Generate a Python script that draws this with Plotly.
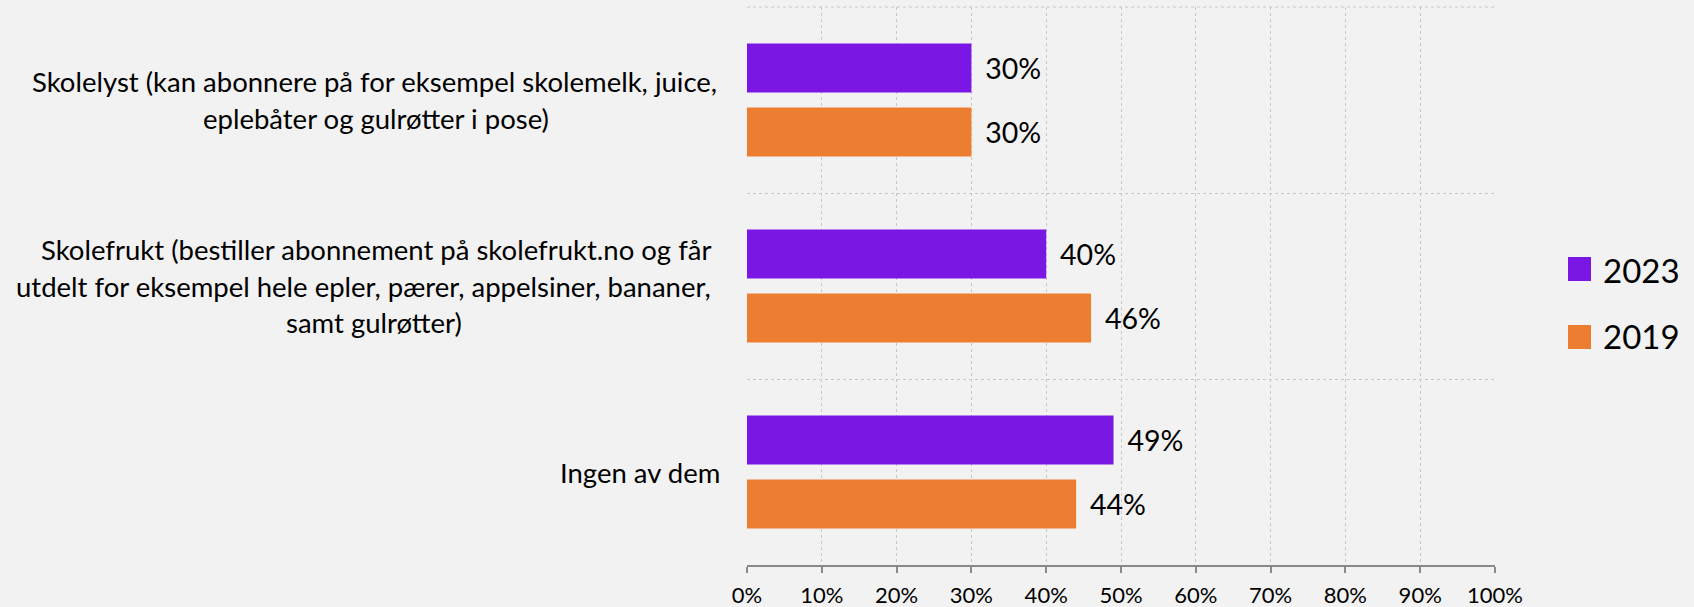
import plotly.graph_objects as go

# ---- data ----
category_lines = [
    ["Skolelyst (kan abonnere på for eksempel skolemelk, juice,",
     "eplebåter og gulrøtter i pose)"],
    ["Skolefrukt (bestiller abonnement på skolefrukt.no og får",
     "utdelt for eksempel hele epler, pærer, appelsiner, bananer,",
     "samt gulrøtter)"],
    ["Ingen av dem"],
]
categories = [" ".join(l) for l in category_lines]
series_names = ["2023", "2019"]
values_2023 = [0.30, 0.40, 0.49]
values_2019 = [0.30, 0.46, 0.44]
x_tickvals = [0, 0.1, 0.2, 0.3, 0.4, 0.5, 0.6, 0.7, 0.8, 0.9, 1.0]

colors = ["#7A17E4", "#ED7D31"]
FONT = "Lato"
W, H = 1694, 607
L, R, T, B = 747, 199, 7, 42
PW, PH = W - L - R, H - T - B

fig = go.Figure()
for name, vals, col in zip(series_names, [values_2023, values_2019], colors):
    fig.add_trace(go.Bar(
        y=categories, x=vals, name=name, orientation="h",
        marker=dict(color=col, line=dict(width=0)),
        texttemplate="\u00a0\u2009%{x:.0%}", textposition="outside",
        textfont=dict(family=FONT, size=28.5, color="#000000"),
        constraintext="none", cliponaxis=False, showlegend=False,
    ))

annotations = []
# category labels (centered lines)
line_centers = [[374, 376], [376, 364, 374], [640]]
for cat, lines, centers in zip(categories, category_lines, line_centers):
    n = len(lines)
    for k, (ln, cx) in enumerate(zip(lines, centers)):
        annotations.append(dict(
            text=ln, xref="paper", yref="y", x=(cx - L) / PW, y=cat,
            xanchor="center", yanchor="middle", showarrow=False,
            yshift=-(k - (n - 1) / 2) * 36.5,
            font=dict(family=FONT, size=27.5, color="#000000"),
        ))

# manual legend
shapes = [dict(type="line", xref="paper", yref="paper", x0=0, x1=1, y0=1, y1=1,
               line=dict(color="#C8C8C8", width=1, dash="3px,3px"))]
legend_rows = [(257, 281, 270), (325, 349, 336)]
for name, col, (y0p, y1p, yc) in zip(series_names, colors, legend_rows):
    shapes.append(dict(
        type="rect", xref="paper", yref="paper",
        x0=(1568 - L) / PW, x1=(1591 - L) / PW,
        y0=(H - B - y1p) / PH, y1=(H - B - y0p) / PH,
        fillcolor=col, line=dict(width=0),
    ))
    annotations.append(dict(
        text=name, xref="paper", yref="paper",
        x=(1601 - L) / PW, y=(H - B - yc) / PH,
        xanchor="left", yanchor="middle", showarrow=False,
        font=dict(family=FONT, size=33, color="#000000"),
    ))

fig.update_layout(
    width=W, height=H,
    margin=dict(l=L, r=R, t=T, b=B, pad=0, autoexpand=False),
    paper_bgcolor="#F2F2F2", plot_bgcolor="#F2F2F2",
    barmode="group", bargap=0.312, bargroupgap=0.234,
    showlegend=False,
    annotations=annotations, shapes=shapes,
    font=dict(family=FONT, color="#000000"),
)
fig.update_xaxes(
    range=[0, 1], tickvals=x_tickvals, tickformat=".0%",
    ticks="outside", ticklen=6, tickwidth=2, tickcolor="#898989",
    showline=True, linecolor="#898989", linewidth=2,
    showgrid=True, gridcolor="#C8C8C8", gridwidth=1, griddash="3px,3px",
    zeroline=False, ticklabelstandoff=4, automargin=False,
    tickfont=dict(family=FONT, size=22, color="#000000"),
)
fig.update_yaxes(
    type="category", autorange="reversed", tickson="boundaries",
    showgrid=True, gridcolor="#C8C8C8", gridwidth=1, griddash="3px,3px",
    showticklabels=False, ticks="", zeroline=False, showline=False,
    automargin=False,
)

fig.write_html(
    "out.html",
    config={"displayModeBar": False},
    post_script="document.body.style.margin='0';document.body.style.background='#F2F2F2';",
)
